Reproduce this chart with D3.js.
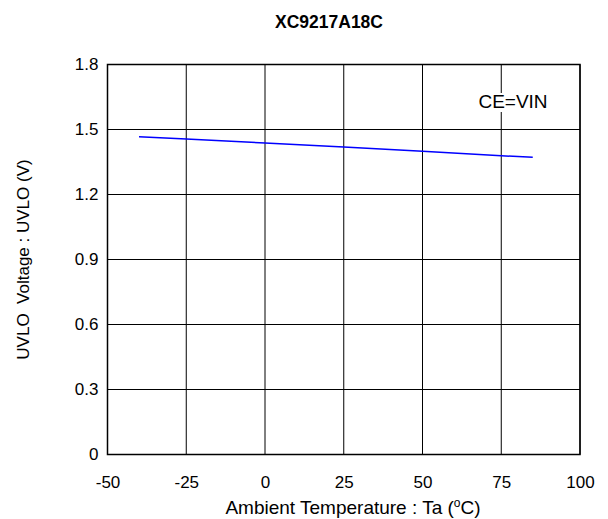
<!DOCTYPE html>
<html><head><meta charset="utf-8">
<script src="https://cdn.jsdelivr.net/npm/d3@7"></script>
<style>body{margin:0;background:#fff}svg{display:block}text{font-family:Arial,"Liberation Sans",sans-serif}</style>
</head><body>
<script>
const title = "XC9217A18C";
const temps = [-40, -25, 0, 25, 50, 75, 85];
const uvlo = [1.467, 1.456, 1.438, 1.419, 1.400, 1.379, 1.372];
const xTicks = [-50, -25, 0, 25, 50, 75, 100];
const yTicks = [0, 0.3, 0.6, 0.9, 1.2, 1.5, 1.8];
const xLabel = "Ambient Temperature : Ta (";
const yLabel = "UVLO\u00a0\u00a0Voltage : UVLO (V)";
const note = "CE=VIN";

const W = 608, H = 519;
const FS = 17;
const m = {l: 107.5, r: 28, t: 64.5, b: 64.5};
const svg = d3.select("body").append("svg").attr("width", W).attr("height", H);
const x = d3.scaleLinear().domain([-50, 100]).range([m.l, W - m.r]);
const y = d3.scaleLinear().domain([0, 1.8]).range([H - m.b, m.t]);

// grid
svg.append("g").selectAll("line").data(xTicks).join("line")
  .attr("x1", d => x(d)).attr("x2", d => x(d)).attr("y1", y(0)).attr("y2", y(1.8))
  .attr("stroke", "#000").attr("stroke-width", 1);
svg.append("g").selectAll("line").data(yTicks).join("line")
  .attr("x1", x(-50)).attr("x2", x(100)).attr("y1", d => y(d)).attr("y2", d => y(d))
  .attr("stroke", "#000").attr("stroke-width", 1);
svg.append("rect").attr("x", x(-50)).attr("y", y(1.8)).attr("width", x(100) - x(-50)).attr("height", y(0) - y(1.8))
  .attr("fill", "none").attr("stroke", "#000").attr("stroke-width", 1.5);

// axes labels
const xa = d3.axisBottom(x).tickValues(xTicks).tickSize(0).tickPadding(21).tickFormat(d => String(d));
svg.append("g").attr("transform", `translate(0,${y(0)})`).call(xa)
  .call(g => g.select(".domain").remove())
  .selectAll("text").attr("font-size", FS).attr("fill", "#000").attr("font-family", "Arial, 'Liberation Sans', sans-serif");
const ya = d3.axisLeft(y).tickValues(yTicks).tickSize(0).tickPadding(9).tickFormat(d => d === 0 ? "0" : d3.format(".1f")(d));
svg.append("g").attr("transform", `translate(${x(-50)},0)`).call(ya)
  .call(g => g.select(".domain").remove())
  .selectAll("text").attr("font-size", FS).attr("fill", "#000").attr("font-family", "Arial, 'Liberation Sans', sans-serif");

// note with white background
const ng = svg.append("g");
const bg = ng.append("rect").attr("fill", "#fff");
const nt = ng.append("text").attr("x", 513).attr("y", 108).attr("text-anchor", "middle")
  .attr("font-size", 19).text(note);
const bb = nt.node().getBBox();
bg.attr("x", bb.x - 2).attr("y", bb.y + 2).attr("width", bb.width + 4).attr("height", bb.height - 2);

// line
svg.append("path").datum(temps.map((t, i) => [t, uvlo[i]]))
  .attr("d", d3.line().x(d => x(d[0])).y(d => y(d[1])))
  .attr("fill", "none").attr("stroke", "#0000ff").attr("stroke-width", 1.5);

// title
svg.append("text").attr("x", 329).attr("y", 27.5).attr("text-anchor", "middle")
  .attr("font-size", 17.5).attr("font-weight", "bold").text(title);

// x label
const xl = svg.append("text").attr("x", 353).attr("y", 514).attr("text-anchor", "middle").attr("font-size", 19);
xl.append("tspan").text(xLabel);
xl.append("tspan").attr("font-size", 12).attr("dy", -7).text("o");
xl.append("tspan").attr("dy", 7).text("C)");

// y label
svg.append("text").attr("transform", `translate(28.5,259.5) rotate(-90)`).attr("text-anchor", "middle")
  .attr("font-size", FS).text(yLabel);
</script>
</body></html>
